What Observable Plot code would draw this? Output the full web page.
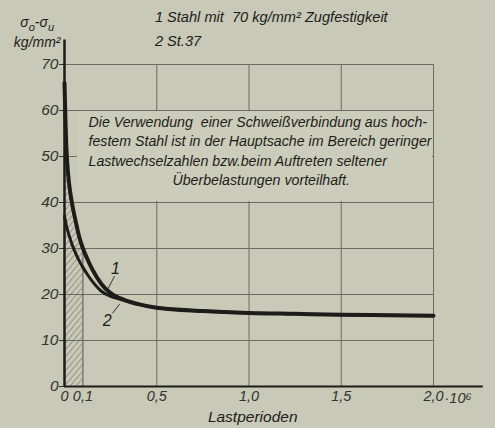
<!DOCTYPE html>
<html><head><meta charset="utf-8">
<script src="https://cdn.jsdelivr.net/npm/d3@7"></script>
<script src="https://cdn.jsdelivr.net/npm/@observablehq/plot@0.6"></script>
<style>html,body{margin:0;padding:0;background:#c8c9b6;}</style>
</head><body><div id="chart"></div>
<script>
// ---- data ----
const lastperioden = [0, 0.005, 0.01, 0.02, 0.03, 0.04, 0.06, 0.08, 0.1, 0.125, 0.15, 0.2, 0.25, 0.3, 0.4, 0.5, 0.75, 1.0, 1.25, 1.5, 1.75, 2.0];
const stahl70 = [66, 58, 52, 46, 42.5, 40, 36, 32.5, 30, 27.6, 25.5, 22.3, 20.3, 19.2, 17.9, 17.1, 16.4, 16.0, 15.8, 15.6, 15.5, 15.4];
const st37    = [37, 36, 35, 33.5, 32.2, 31, 29, 27.3, 25.9, 24.3, 22.9, 20.7, 19.6, 19.0, 17.9, 17.1, 16.4, 16.0, 15.8, 15.6, 15.5, 15.4];
const yTicks = [0, 10, 20, 30, 40, 50, 60, 70];
const xTicks = [0, 0.1, 0.5, 1, 1.5, 2];
const xTickLabels = ["0", "0,1", "0,5", "1,0", "1,5", "2,0"];
const xGrid = [0.5, 1, 1.5, 2];
const hatchLimit = 0.1;
const legendLines = ["1 Stahl mit  70 kg/mm² Zugfestigkeit", "2 St.37"];
const noteLines = [
  "Die Verwendung  einer Schweißverbindung aus hoch-",
  "festem Stahl ist in der Hauptsache im Bereich geringer",
  "Lastwechselzahlen bzw.beim Auftreten seltener",
  "Überbelastungen vorteilhaft."
];
const yTitle = ["σo-σu", "kg/mm²"];
const xTitle = "Lastperioden";
const xUnit = "·10⁶";
const curveLabels = ["1", "2"];

// ---- build tables ----
const rows1 = lastperioden.map((x, i) => ({x, y: stahl70[i]}));
const rows2 = lastperioden.map((x, i) => ({x, y: st37[i]}));
const hatchRows = rows1.filter(d => d.x <= hatchLimit);
const hatchTop = stahl70[lastperioden.indexOf(hatchLimit)];

// annotation anchors (data space)
const legendPos = [{x: 0.49, y: 80.3}, {x: 0.49, y: 75.1}];
const notePos = [{x: 0.13, y: 57.4}, {x: 0.13, y: 53.2}, {x: 0.13, y: 49.0}, {x: 0.585, y: 44.8}];
const yTitlePos = [{x: -0.148, y: 79.2}, {x: -0.148, y: 74.8}];
const labelPos = [{x: 0.276, y: 25.6}, {x: 0.232, y: 14.2}];
const leaders = [{x1: 0.271, y1: 24.0, x2: 0.238, y2: 21.4}, {x1: 0.26, y1: 15.9, x2: 0.298, y2: 17.9}];

const ink = "#1c1c1a";
const grid = "#6b6c64";

const chart = Plot.plot({
  width: 495, height: 428,
  marginLeft: 64, marginRight: 62, marginTop: 64, marginBottom: 42,
  style: {fontFamily: "Liberation Sans", fontStyle: "italic", fontSize: "15px", color: "#33332f", background: "#c8c9b6"},
  x: {domain: [0, 2], ticks: xTicks, tickFormat: d => xTickLabels[xTicks.indexOf(d)], tickSize: 0, tickPadding: 4, label: null},
  y: {domain: [0, 70], ticks: yTicks, tickFormat: d => String(d), tickSize: 5, tickPadding: 1, label: null},
  marks: [
    Plot.ruleY(yTicks.slice(1), {x1: 0, x2: 2, stroke: grid, strokeWidth: 1}),
    Plot.ruleX(xGrid, {y1: 0, y2: 70, stroke: grid, strokeWidth: 1}),
    Plot.rect([0], {x1: 0.07, x2: 1.994, y1: 40.25, y2: 59.75, fill: "#cbccb9"}),
    Plot.areaY(hatchRows, {x: "x", y: "y", fill: "#888", curve: "monotone-x"}),
    Plot.ruleX([hatchLimit], {y1: 0, y2: hatchTop, stroke: "#555", strokeWidth: 1}),
    Plot.line(rows2, {x: "x", y: "y", stroke: ink, strokeWidth: 3, curve: "monotone-x"}),
    Plot.line(rows1, {x: "x", y: "y", stroke: ink, strokeWidth: 4, curve: "monotone-x"}),
    Plot.link(leaders, {x1: "x1", y1: "y1", x2: "x2", y2: "y2", stroke: "#333", strokeWidth: 1}),
    Plot.text(labelPos, {x: "x", y: "y", text: (d, i) => curveLabels[i], fontSize: 16, fill: ink}),
    Plot.ruleY([0], {x1: 0, x2: 2.27, stroke: ink, strokeWidth: 2}),
    Plot.ruleX([0], {y1: 0, y2: 75.3, stroke: ink, strokeWidth: 2.5}),
    Plot.text(noteLines, {x: (d, i) => notePos[i].x, y: (d, i) => notePos[i].y, text: d => d, textAnchor: "start", fontSize: 14.2, fill: ink}),
    Plot.text(legendLines, {x: (d, i) => legendPos[i].x, y: (d, i) => legendPos[i].y, text: d => d, textAnchor: "start", fontSize: 14.6, fill: ink}),
    Plot.text(yTitle, {x: (d, i) => yTitlePos[i].x, y: (d, i) => yTitlePos[i].y, text: d => d, textAnchor: "middle", fontSize: 14, fill: ink}),
    Plot.text([xTitle], {x: 1.02, y: -6.7, text: d => d, fontSize: 15.5, fill: ink}),
    Plot.text([xUnit], {x: 2.0, y: -2.6, text: d => d, textAnchor: "start", dx: 11, fontSize: 14.5, fill: "#33332f"})
  ]
});
document.getElementById("chart").appendChild(chart);

const svg = d3.select(chart);
// axis tick label sizes
svg.selectAll('g[aria-label*="y-axis"] text').attr("font-size", 15.5);
svg.selectAll('g[aria-label*="x-axis"] text').attr("font-size", 14.5);

// hatch pattern for the area under curve 1 up to 0.1
const defs = svg.insert("defs", ":first-child");
const pat = defs.append("pattern").attr("id", "hatch").attr("patternUnits", "userSpaceOnUse")
  .attr("width", 4.5).attr("height", 4.5).attr("patternTransform", "rotate(40)");
pat.append("line").attr("x1", 0).attr("y1", 0).attr("x2", 0).attr("y2", 4.5).attr("stroke", "#5a5a55").attr("stroke-width", 0.9);
svg.selectAll('g[aria-label="area"] path').attr("fill", "url(#hatch)");

// subscripts in the y title
svg.selectAll("text").each(function() {
  if (this.textContent === yTitle[0]) {
    const t = d3.select(this);
    t.text(null);
    t.append("tspan").text("σ");
    t.append("tspan").attr("dy", 4).attr("font-size", 11).text("o");
    t.append("tspan").attr("dy", -4).text("-σ");
    t.append("tspan").attr("dy", 4).attr("font-size", 11).text("u");
  }
});
</script>
</body></html>
